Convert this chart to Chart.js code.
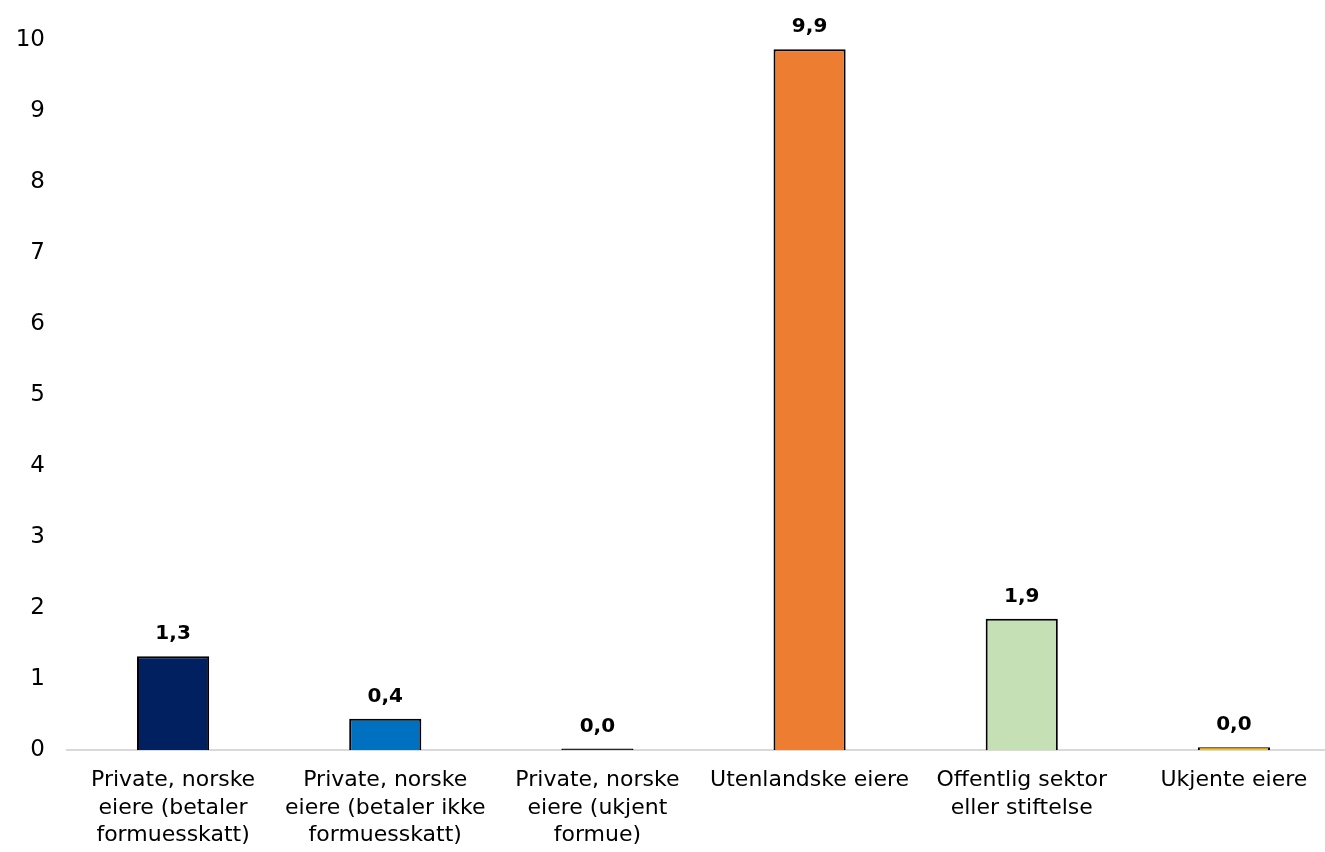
<!DOCTYPE html>
<html>
<head>
<meta charset="utf-8">
<script src="https://cdn.jsdelivr.net/npm/chart.js@4"></script>
<style>
  html, body { margin: 0; padding: 0; background: #fff; overflow: hidden; }
  #wrap { position: relative; width: 1340px; height: 852px; }
</style>
</head>
<body>
<div id="wrap"><canvas id="chart"></canvas></div>
<script>
const categories = [
    ['Private, norske', 'eiere (betaler', 'formuesskatt)'],
    ['Private, norske', 'eiere (betaler ikke', 'formuesskatt)'],
    ['Private, norske', 'eiere (ukjent', 'formue)'],
    'Utenlandske eiere',
    ['Offentlig sektor', 'eller stiftelse'],
    'Ukjente eiere'
];
const values = [1.32, 0.44, 0.02, 9.87, 1.85, 0.04];
const barColors = ['#002060', '#0070C0', '#000000', '#ED7D31', '#C5E0B4', '#FFC000'];
const yTicks = [0, 1, 2, 3, 4, 5, 6, 7, 8, 9, 10];

const fontFamily = "'DejaVu Sans', sans-serif";

// bold value labels above each bar
const valueLabels = {
    id: 'valueLabels',
    afterDatasetsDraw(chart) {
        const ctx = chart.ctx;
        const meta = chart.getDatasetMeta(0);
        ctx.save();
        ctx.font = 'bold 20px ' + fontFamily;
        ctx.fillStyle = '#000';
        ctx.textAlign = 'center';
        ctx.textBaseline = 'bottom';
        meta.data.forEach((bar, i) => {
            const txt = values[i].toFixed(1).replace('.', ',');
            ctx.fillText(txt, bar.x, bar.y - 12);
        });
        ctx.restore();
    }
};

const config = {
    type: 'bar',
    data: {
        labels: categories,
        datasets: [{
            data: values,
            backgroundColor: barColors,
            borderColor: '#000',
            borderWidth: 2,
            borderSkipped: 'bottom',
            barPercentage: 0.34,
            categoryPercentage: 1
        }]
    },
    options: {
        responsive: true,
        maintainAspectRatio: false,
        animation: false,
        layout: {
            padding: { top: 40, left: 0, right: 0, bottom: 0 }
        },
        plugins: {
            legend: { display: false },
            tooltip: { enabled: false }
        },
        scales: {
            x: {
                afterFit(scale) {
                    scale.height = 102;
                },
                grid: { display: false, drawTicks: false },
                border: { display: true, color: '#D9D9D9', width: 2 },
                ticks: {
                    color: '#000',
                    font: { family: fontFamily, size: 22, lineHeight: 1.25 },
                    padding: 17,
                    maxRotation: 0,
                    autoSkip: false
                }
            },
            y: {
                min: 0,
                max: 10,
                afterBuildTicks(scale) {
                    scale.ticks = yTicks.map(v => ({ value: v }));
                },
                afterFit(scale) {
                    scale.width = 67;
                },
                grid: { display: false, drawTicks: false },
                border: { display: false },
                ticks: {
                    color: '#000',
                    font: { family: fontFamily, size: 23 },
                    padding: 22
                }
            }
        }
    },
    plugins: [valueLabels]
};

new Chart(document.getElementById('chart'), config);
</script>
</body>
</html>
